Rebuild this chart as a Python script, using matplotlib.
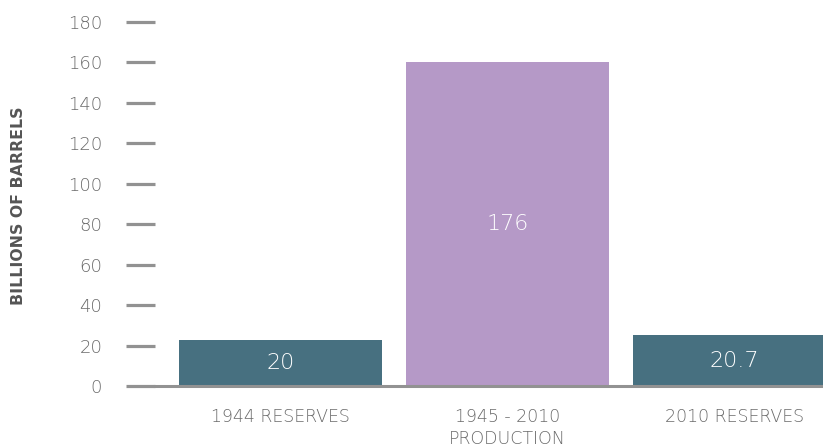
import matplotlib
matplotlib.use("Agg")
import matplotlib.pyplot as plt

categories = ["1944 RESERVES", "1945 - 2010\nPRODUCTION", "2010 RESERVES"]
values = [22.7, 160, 25.2]
value_labels = ["20", "176", "20.7"]
colors = ["#477080", "#B599C7", "#477080"]
yticks = [0, 20, 40, 60, 80, 100, 120, 140, 160, 180]

plt.rcParams['font.family'] = ['DejaVu Sans']

fig = plt.figure(figsize=(8.23, 4.48), dpi=100)
ax = fig.add_axes([155/823, 62/448, 1 - 155/823, (386-22)/448])

x = list(range(len(categories)))
bars = ax.bar(x, values, width=0.894, color=colors, zorder=2)

for xi, v, lab in zip(x, values, value_labels):
    ax.text(xi, v/2, lab, ha='center', va='center', color='white',
            fontsize=16, fontweight='light')

ax.set_ylim(0, 180)
ax.set_xlim((155-280.5)/227, (823-280.5)/227)
ax.set_yticks(yticks)
ax.set_yticklabels([str(t) for t in yticks], fontsize=13, color='#6a6a6a', fontweight='light')
ax.tick_params(axis='y', length=21, width=2.3, color='#929292', pad=17)
ax.set_xticks(x)
ax.set_xticklabels(categories, fontsize=12.5, color='#6a6a6a', fontweight='light', linespacing=1.3)
ax.tick_params(axis='x', length=0, pad=16)

for s in ['top', 'right', 'left']:
    ax.spines[s].set_visible(False)
ax.spines['bottom'].set_color('#929292')
ax.spines['bottom'].set_linewidth(2.2)
ax.spines['bottom'].set_zorder(3)

fig.text(19/823, 1 - 206/448, "BILLIONS OF BARRELS", rotation=90, ha='center', va='center',
         fontsize=11.3, fontweight='bold', color='#555555')

fig.savefig("out.png", dpi=100)
